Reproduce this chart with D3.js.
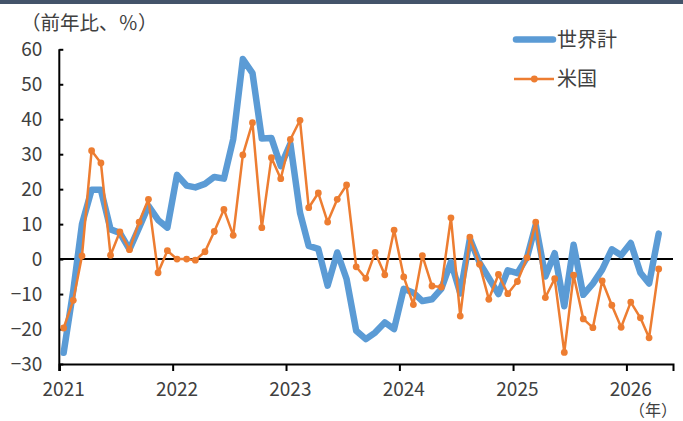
<!DOCTYPE html>
<html>
<head>
<meta charset="utf-8">
<script src="https://cdn.jsdelivr.net/npm/d3@7/dist/d3.min.js"></script>
<style>
  html, body { margin: 0; padding: 0; background: #fff; }
  svg { display: block; }
  text { font-family: "Noto Sans CJK JP", "Noto Sans", sans-serif; fill: #404040; }
</style>
</head>
<body>
<svg id="chart" width="683" height="421"></svg>
<script>
// Monthly year-on-year growth, Jan 2021 – Apr 2026
const startYear = 2021;
const startMonth = 0;

const worldValues = [
  -26.8, -9.0, 10.0, 19.8, 19.8, 8.5, 7.5, 2.8, 9.0, 15.2, 11.2, 9.0,
  24.1, 21.0, 20.5, 21.5, 23.5, 23.0, 34.3, 57.2, 53.2, 34.5, 34.6, 26.6,
  33.0, 13.3, 3.8, 2.9, -7.6, 1.9, -5.7, -20.5, -22.9, -21.0, -18.1, -20.0,
  -8.5, -9.6, -12.0, -11.5, -8.5, -0.8, -9.8, 5.8, -1.0, -5.4, -10.0, -3.2,
  -4.0, 0.5, 9.8, -5.0, 1.7, -13.5, 4.1, -10.2, -7.0, -3.0, 2.8, 1.1,
  4.6, -3.9, -7.0, 7.3
];

const usValues = [
  -19.7, -11.8, 0.9, 31.0, 27.5, 1.1, 7.8, 2.7, 10.6, 17.1, -3.9, 2.4,
  0.0, 0.0, -0.3, 2.1, 7.9, 14.2, 6.8, 29.8, 39.0, 9.0, 29.0, 23.0,
  34.2, 39.7, 14.7, 18.9, 10.6, 17.1, 21.2, -2.2, -5.5, 1.9, -4.5, 8.3,
  -5.1, -13.0, 1.0, -7.7, -8.0, 11.8, -16.3, 6.3, -1.5, -11.5, -4.4, -9.9,
  -6.4, 0.4, 10.6, -11.0, -5.6, -26.7, -4.6, -17.1, -19.6, -6.2, -13.2, -19.5,
  -12.3, -16.8, -22.5, -2.8
];

const seriesNames = ["世界計", "米国"];
const yearTicks = [2021, 2022, 2023, 2024, 2025, 2026];
const yTicks = [-30, -20, -10, 0, 10, 20, 30, 40, 50, 60];
const yTitle = "（前年比、％）";
const xTitle = "（年）";

const blue = "#5b9bd5";
const orange = "#ed7d31";

const svg = d3.select("#chart");

// top band
svg.append("rect").attr("x", 0).attr("y", 0).attr("width", 683).attr("height", 4).attr("fill", "#44546a");

const monthDate = i => new Date(startYear, startMonth + i, 15);

const x = d3.scaleTime()
  .domain([new Date(2021, 0, 1), new Date(2026, 4, 31)])
  .range([59.3, 673]);
const y = d3.scaleLinear().domain([-30, 60]).range([364, 49.3]);

// y axis with inward ticks
const yAxis = svg.append("g")
  .attr("transform", "translate(59.3,0)")
  .call(d3.axisLeft(y).tickValues(yTicks).tickSize(-4).tickPadding(17).tickFormat(d3.format("d")));
yAxis.select(".domain").attr("stroke", "#000").attr("stroke-width", 2).attr("d", `M0,${y(60)}V${y(-30) + 7}`);
yAxis.selectAll(".tick line").attr("stroke", "#000").attr("stroke-width", 2);
yAxis.selectAll(".tick text").attr("font-size", 19).attr("fill", "#404040")
  .style("font-family", '"Noto Sans CJK JP", sans-serif');

// x axis: ticks at year boundaries
const xAxis = svg.append("g")
  .attr("transform", `translate(0,${y(-30)})`)
  .call(d3.axisBottom(x).tickValues(yearTicks.map(yr => new Date(yr, 0, 1))).tickSize(7).tickFormat(""));
xAxis.select(".domain").attr("stroke", "#000").attr("stroke-width", 2);
xAxis.selectAll(".tick line").attr("stroke", "#000").attr("stroke-width", 2);

// year labels
svg.append("g").selectAll("text")
  .data(yearTicks)
  .join("text")
  .attr("x", d => x(new Date(d, 0, 15)))
  .attr("y", 396)
  .attr("text-anchor", "middle")
  .attr("font-size", 19)
  .text(d => d);

// zero line
svg.append("line")
  .attr("x1", 59.3).attr("x2", 673)
  .attr("y1", y(0)).attr("y2", y(0))
  .attr("stroke", "#000").attr("stroke-width", 2);

const line = d3.line().x((d, i) => x(monthDate(i))).y(d => y(d));

// world total
svg.append("path")
  .datum(worldValues)
  .attr("d", line)
  .attr("fill", "none")
  .attr("stroke", blue)
  .attr("stroke-width", 6.5)
  .attr("stroke-linejoin", "round")
  .attr("stroke-linecap", "round");

// United States
svg.append("path")
  .datum(usValues)
  .attr("d", line)
  .attr("fill", "none")
  .attr("stroke", orange)
  .attr("stroke-width", 2.5)
  .attr("stroke-linejoin", "round");

svg.append("g").selectAll("circle")
  .data(usValues)
  .join("circle")
  .attr("cx", (d, i) => x(monthDate(i)))
  .attr("cy", d => y(d))
  .attr("r", 3.4)
  .attr("fill", orange);

// titles
svg.append("text").attr("x", 21).attr("y", 30).attr("font-size", 19.5).text(yTitle);
svg.append("text").attr("x", 677).attr("y", 416).attr("text-anchor", "end").attr("font-size", 16).text(xTitle);

// legend
const legend = svg.append("g");
legend.append("line").attr("x1", 516).attr("x2", 553).attr("y1", 39.5).attr("y2", 39.5)
  .attr("stroke", blue).attr("stroke-width", 6.5).attr("stroke-linecap", "round");
legend.append("text").attr("x", 557).attr("y", 39.5).attr("dy", "0.35em").attr("font-size", 20).text(seriesNames[0]);
legend.append("line").attr("x1", 514).attr("x2", 554).attr("y1", 79).attr("y2", 79)
  .attr("stroke", orange).attr("stroke-width", 2.5);
legend.append("circle").attr("cx", 534.3).attr("cy", 79).attr("r", 3.4).attr("fill", orange);
legend.append("text").attr("x", 557).attr("y", 79).attr("dy", "0.35em").attr("font-size", 20).text(seriesNames[1]);
</script>
</body>
</html>
